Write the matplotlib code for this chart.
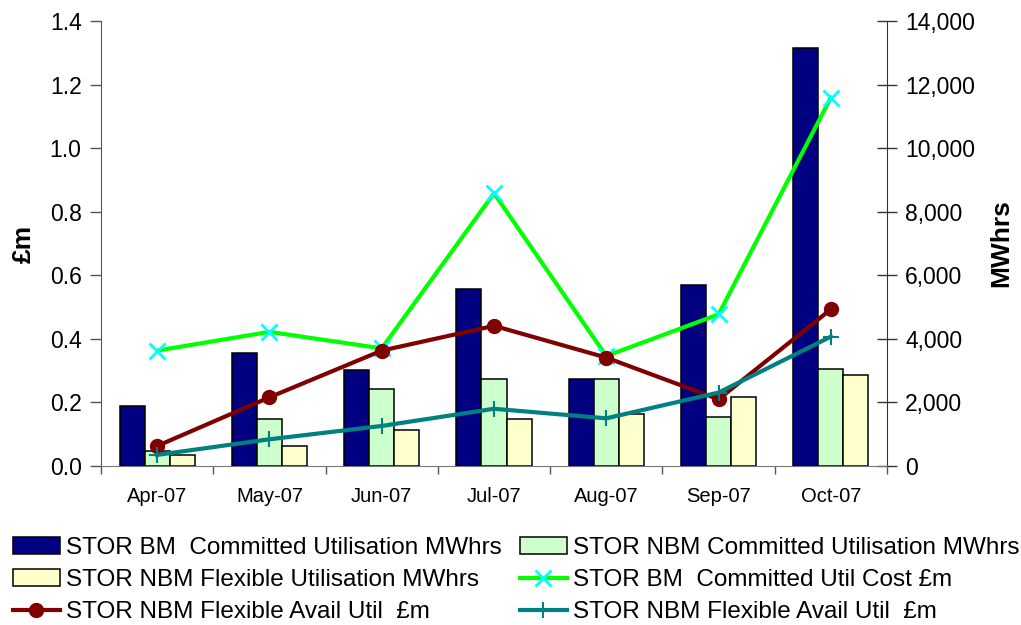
import numpy as np
import matplotlib
matplotlib.use("Agg")
import matplotlib.pyplot as plt
from matplotlib.ticker import FuncFormatter, FixedLocator

plt.rcParams['font.family'] = ['Liberation Sans', 'DejaVu Sans']

months = ['Apr-07', 'May-07', 'Jun-07', 'Jul-07', 'Aug-07', 'Sep-07', 'Oct-07']

# MWhrs (right axis)
bm_committed_mwh = [1890, 3560, 3020, 5575, 2740, 5680, 13135]
nbm_committed_mwh = [480, 1470, 2420, 2740, 2730, 1530, 3050]
nbm_flexible_mwh = [355, 640, 1130, 1480, 1635, 2160, 2850]

# £m (left axis)
bm_committed_cost = [0.363, 0.422, 0.370, 0.858, 0.346, 0.477, 1.159]
nbm_flex_avail_red = [0.063, 0.216, 0.363, 0.441, 0.341, 0.210, 0.493]
nbm_flex_avail_teal = [0.035, 0.084, 0.126, 0.180, 0.150, 0.231, 0.407]

fig = plt.figure(figsize=(10.21, 6.25), dpi=100)
ax = fig.add_axes([101 / 1021, 1 - 466 / 625, 786 / 1021, 445 / 625])
ax2 = ax.twinx()

x = np.arange(len(months))
w = 0.223
bar_kw = dict(width=w, edgecolor='black', linewidth=1.1, zorder=2)
b1 = ax2.bar(x - w, bm_committed_mwh, color='#000080', **bar_kw)
b2 = ax2.bar(x, nbm_committed_mwh, color='#CCFFCC', **bar_kw)
b3 = ax2.bar(x + w, nbm_flexible_mwh, color='#FFFFCC', **bar_kw)

# lines on the £m axis, drawn above the bars
ax.set_zorder(ax2.get_zorder() + 1)
ax.patch.set_visible(False)
l1, = ax.plot(x, bm_committed_cost, color='#00FF00', lw=3,
              marker='x', ms=12, mec='#00FFFF', mew=2)
l2, = ax.plot(x, nbm_flex_avail_red, color='#800000', lw=3,
              marker='o', ms=10, mec='#800000', mfc='#800000')
l3, = ax.plot(x, nbm_flex_avail_teal, color='#008080', lw=3,
              marker='+', ms=12, mec='#008080', mew=1.5)

ax.set_xlim(-0.5, len(months) - 0.5)
ax.set_ylim(0, 1.4)
ax2.set_ylim(0, 14000)
ax.set_yticks(np.arange(0, 1.41, 0.2))
ax.yaxis.set_major_formatter(FuncFormatter(lambda v, p: f'{v:.1f}'))
ax2.set_yticks(np.arange(0, 14001, 2000))
ax2.yaxis.set_major_formatter(FuncFormatter(lambda v, p: f'{int(v):,}'))

ax.set_xticks(x)
ax.set_xticklabels(months, fontsize=14.5)
ax.tick_params(axis='x', which='major', length=0, pad=15)
ax.xaxis.set_minor_locator(FixedLocator(np.arange(-0.5, len(months), 1.0)))
ax.tick_params(axis='x', which='minor', length=6, width=1, color='#555555')

ax.tick_params(axis='y', length=8, width=1, color='#555555', labelsize=16.5, pad=6)
ax2.tick_params(axis='y', direction='inout', length=14, width=1, color='#333333',
                labelsize=16.5, pad=6)

for a in (ax, ax2):
    a.spines['top'].set_visible(False)
ax.spines['left'].set_color('#555555')
ax.spines['bottom'].set_color('#777777')
ax.spines['right'].set_visible(False)
ax2.spines['left'].set_visible(False)
ax2.spines['bottom'].set_visible(False)
ax2.spines['right'].set_color('#333333')

ax.set_ylabel('£m', fontsize=19, fontweight='bold', labelpad=10)
ax2.set_ylabel('MWhrs', fontsize=19, fontweight='bold', labelpad=10)

handles = [b1, b3, l2, b2, l1, l3]
labels = ['STOR BM  Committed Utilisation MWhrs',
          'STOR NBM Flexible Utilisation MWhrs',
          'STOR NBM Flexible Avail Util  £m',
          'STOR NBM Committed Utilisation MWhrs',
          'STOR BM  Committed Util Cost £m',
          'STOR NBM Flexible Avail Util  £m']
fig.legend(handles, labels, ncol=2, loc='upper left',
           bbox_to_anchor=(13 / 1021, 1 - 537 / 625), frameon=False,
           fontsize=17.5, borderpad=0, borderaxespad=0, handlelength=1.93,
           handletextpad=0.25, columnspacing=0.74, labelspacing=0.42)

fig.savefig('out.png', dpi=100)
